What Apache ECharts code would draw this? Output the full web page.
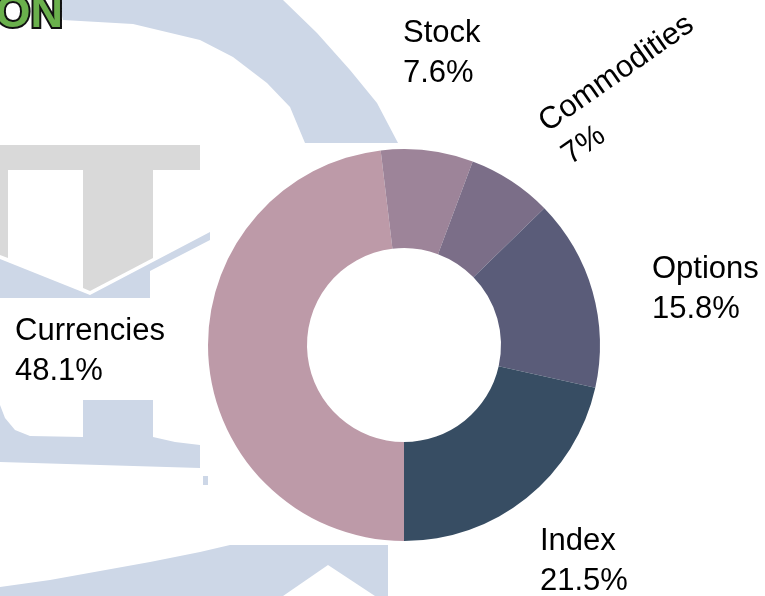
<!DOCTYPE html>
<html>
<head>
<meta charset="utf-8">
<script src="https://cdn.jsdelivr.net/npm/echarts@6/dist/echarts.min.js"></script>
<style>
  html, body { margin: 0; padding: 0; background: #ffffff; }
  #chart { width: 765px; height: 596px; }
</style>
</head>
<body>
<div id="chart"></div>
<script>
// ---- data ----
const categories = ['Currencies', 'Stock', 'Commodities', 'Options', 'Index'];
const shares = [48.1, 7.6, 7, 15.8, 21.5];
const sliceColors = ['#bd9aa8', '#9d8499', '#7b6e88', '#5a5c79', '#374d63'];

// ---- label placement (style, not data) ----
const labelSpots = {
  Currencies:  { x: 15,  y: 311 },
  Stock:       { x: 403, y: 13 },
  Commodities: { x: 531, y: 109, rotate: 35 },
  Options:     { x: 652, y: 249 },
  Index:       { x: 540, y: 521 }
};

const WM_BLUE = '#cdd7e7';
const WM_GRAY = '#d9d9d9';

const chart = echarts.init(document.getElementById('chart'), null, { renderer: 'canvas' });

const bg = [
  // top arc band
  { type: 'polygon', shape: { points: [[58,0],[283,0],[317,33],[350,70],[377,103],[398,143],[305,143],[290,107],[267,83],[233,57],[200,40],[133,24],[63,20]] } },
  // gray T
  { type: 'rect', shape: { x: 0, y: 145, width: 200, height: 25 }, gray: true },
  { type: 'polygon', shape: { points: [[83,145],[153,145],[153,258],[90,291],[83,288]] }, gray: true },
  { type: 'polygon', shape: { points: [[0,145],[8,145],[8,258],[0,255]] }, gray: true },
  // blue chevron
  { type: 'polygon', shape: { points: [[0,259],[90,295],[210,232],[210,240],[150,271],[150,298],[0,298]] } },
  // blue base under Currencies
  { type: 'polygon', shape: { points: [[0,405],[5,418],[15,430],[30,436],[83,437],[83,400],[153,400],[153,437],[175,442],[200,445],[200,468],[0,462]] } },
  { type: 'rect', shape: { x: 203, y: 476, width: 5, height: 9 } },
  // bottom arc + block with notch
  { type: 'polygon', shape: { points: [[0,587],[50,580],[100,571],[150,562],[200,552],[230,545],[388,545],[388,596],[375,596],[328,565],[283,596],[0,596]] } }
].map(function (e) {
  return { type: e.type, shape: e.shape, silent: true, z: -10, style: { fill: e.gray ? WM_GRAY : WM_BLUE } };
});

bg.push({
  type: 'text', silent: true, z: -5,
  style: {
    text: 'ON', x: 63, y: 37, align: 'right', verticalAlign: 'bottom',
    font: '900 45px "Liberation Sans", Arial, sans-serif',
    fill: '#6ab04c', stroke: '#111111', lineWidth: 4
  }
});

chart.setOption({
  backgroundColor: '#ffffff',
  animation: false,
  graphic: { elements: bg },
  series: [{
    type: 'pie',
    center: [404, 345],
    radius: [97, 196],
    startAngle: -90,
    clockwise: true,
    avoidLabelOverlap: false,
    data: categories.map(function (name, i) {
      return { name: name, value: shares[i], itemStyle: { color: sliceColors[i] } };
    }),
    itemStyle: { borderWidth: 0 },
    label: {
      show: true,
      position: 'outside',
      formatter: function (p) { return p.name + '\n' + p.value + '%'; },
      color: '#000000',
      fontFamily: '"Liberation Sans", Arial, sans-serif',
      fontSize: 31,
      lineHeight: 40
    },
    labelLine: { show: false },
    labelLayout: function (params) {
      const name = categories[params.dataIndex];
      const s = labelSpots[name];
      const r = { x: s.x, y: s.y, align: 'left', verticalAlign: 'top' };
      if (s.rotate) r.rotate = s.rotate;
      return r;
    },
    emphasis: { disabled: true }
  }]
});
</script>
</body>
</html>
